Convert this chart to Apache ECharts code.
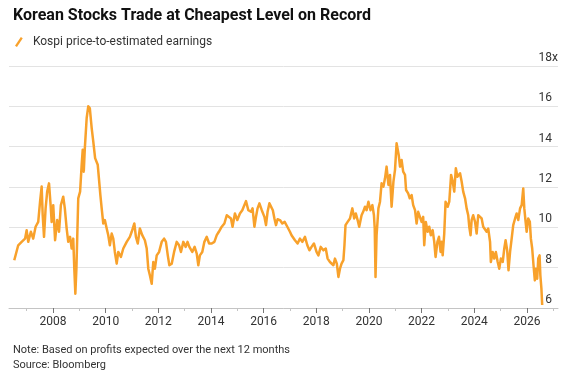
<!DOCTYPE html>
<html>
<head>
<meta charset="utf-8">
<script src="https://cdn.jsdelivr.net/npm/echarts@6/dist/echarts.min.js"></script>
<style>
  html, body { margin: 0; padding: 0; background: #fff; }
  #chart { width: 578px; height: 373px; }
</style>
</head>
<body>
<div id="chart"></div>
<script>
// Kospi forward P/E (decimal year, value)
var t2006 = [2006.53, 2006.68, 2006.81, 2006.94, 2007.0, 2007.06, 2007.16, 2007.25, 2007.34, 2007.44, 2007.51, 2007.57, 2007.61, 2007.66, 2007.72, 2007.78, 2007.85, 2007.91, 2007.95, 2008.01, 2008.08, 2008.16, 2008.23, 2008.30, 2008.39, 2008.45, 2008.52, 2008.58, 2008.65, 2008.71, 2008.77, 2008.81, 2008.85, 2008.89, 2008.92, 2008.96, 2009.03, 2009.09, 2009.13, 2009.17, 2009.21, 2009.28, 2009.34, 2009.40, 2009.47, 2009.53, 2009.60];
var pe2006 = [8.37, 9.11, 9.28, 9.44, 9.86, 9.28, 9.78, 9.44, 10.03, 10.27, 11.27, 12.02, 10.6, 9.53, 10.94, 11.77, 12.18, 11.1, 10.27, 11.1, 9.36, 10.36, 9.78, 11.1, 11.52, 10.94, 9.94, 9.28, 9.53, 8.95, 9.44, 7.95, 6.71, 7.95, 9.44, 11.44, 11.77, 13.1, 13.85, 12.76, 13.93, 15.42, 16.0, 15.9, 14.92, 14.26, 13.43];

var t2009 = [2009.70, 2009.75, 2009.80, 2009.85, 2009.91, 2009.97, 2010.04, 2010.10, 2010.16, 2010.23, 2010.29, 2010.35, 2010.42, 2010.48, 2010.58, 2010.67, 2010.80, 2010.92, 2010.99, 2011.09, 2011.15, 2011.22, 2011.30, 2011.39, 2011.49, 2011.56, 2011.62, 2011.68, 2011.75, 2011.81, 2011.87, 2011.94, 2012.03, 2012.13, 2012.22, 2012.29, 2012.36, 2012.42, 2012.51, 2012.60, 2012.70, 2012.79, 2012.86, 2012.95];
var pe2009 = [13.1, 12.35, 11.6, 10.94, 10.19, 10.36, 9.94, 9.61, 9.11, 9.69, 9.44, 8.78, 8.2, 8.78, 8.53, 8.95, 9.28, 9.53, 9.78, 10.19, 9.53, 9.2, 9.94, 9.61, 9.36, 8.95, 7.95, 7.62, 7.2, 8.28, 7.95, 8.61, 8.78, 9.28, 9.44, 9.28, 8.61, 8.12, 8.2, 8.78, 9.28, 9.11, 8.78, 9.28];

var t2013 = [2013.04, 2013.11, 2013.18, 2013.29, 2013.38, 2013.46, 2013.52, 2013.58, 2013.67, 2013.75, 2013.84, 2013.93, 2014.03, 2014.13, 2014.22, 2014.30, 2014.41, 2014.51, 2014.60, 2014.66, 2014.76, 2014.82, 2014.91, 2015.0, 2015.10, 2015.19, 2015.26, 2015.33, 2015.42, 2015.52, 2015.58, 2015.65, 2015.71, 2015.77, 2015.84, 2015.93, 2016.03, 2016.09, 2016.15, 2016.22, 2016.28, 2016.35];
var pe2013 = [9.03, 9.28, 9.03, 8.78, 9.03, 8.7, 8.12, 8.61, 8.78, 9.28, 9.53, 9.2, 9.2, 9.28, 9.61, 9.78, 10.03, 10.19, 10.6, 10.52, 10.44, 10.03, 10.69, 10.36, 10.69, 10.85, 10.77, 11.3, 10.85, 10.77, 10.94, 10.03, 10.52, 10.94, 11.19, 10.85, 10.52, 10.11, 10.77, 11.19, 11.27, 10.85];

var t2016 = [2016.41, 2016.47, 2016.53, 2016.62, 2016.71, 2016.80, 2016.90, 2017.0, 2017.06, 2017.13, 2017.19, 2017.29, 2017.38, 2017.47, 2017.57, 2017.66, 2017.74, 2017.82, 2017.91, 2018.01, 2018.08, 2018.17, 2018.27, 2018.36, 2018.43, 2018.52, 2018.58, 2018.65, 2018.71, 2018.78, 2018.84, 2018.90, 2018.96, 2019.03, 2019.07, 2019.11, 2019.19, 2019.28, 2019.37, 2019.44, 2019.50, 2019.57, 2019.63, 2019.72, 2019.78];
var pe2016 = [10.44, 10.11, 10.4, 10.36, 10.19, 10.27, 10.03, 9.78, 9.61, 9.69, 9.36, 9.2, 9.44, 9.28, 9.53, 9.11, 8.86, 9.03, 9.2, 8.78, 8.61, 9.03, 8.86, 8.95, 8.45, 8.28, 8.37, 8.12, 8.45, 8.2, 7.54, 7.95, 8.2, 8.37, 9.11, 10.11, 10.27, 10.44, 10.94, 10.44, 10.69, 10.36, 10.03, 10.6, 10.77];

var t2019 = [2019.85, 2019.91, 2019.98, 2020.06, 2020.13, 2020.19, 2020.22, 2020.25, 2020.29, 2020.36, 2020.42, 2020.48, 2020.55, 2020.61, 2020.67, 2020.74, 2020.80, 2020.86, 2020.93, 2020.99, 2021.05, 2021.09, 2021.13, 2021.18, 2021.24, 2021.30, 2021.37, 2021.41, 2021.49, 2021.55, 2021.62, 2021.68, 2021.75, 2021.81, 2021.87, 2021.94, 2022.0, 2022.06, 2022.10, 2022.16, 2022.23, 2022.29, 2022.35, 2022.42, 2022.48, 2022.53, 2022.60, 2022.66, 2022.72, 2022.76, 2022.80, 2022.86, 2022.91, 2022.99, 2023.05, 2023.12, 2023.18, 2023.24];
var pe2019 = [11.02, 10.85, 11.27, 10.85, 11.1, 10.6, 9.94, 7.54, 9.61, 10.94, 11.27, 12.18, 12.02, 12.43, 13.01, 12.1, 12.6, 11.02, 12.27, 12.85, 14.17, 14.26, 13.59, 13.01, 13.34, 12.76, 12.6, 11.85, 11.68, 11.44, 11.6, 11.1, 10.85, 10.19, 10.77, 10.69, 10.27, 10.52, 9.11, 10.27, 9.78, 10.03, 9.61, 9.86, 9.28, 8.53, 9.28, 9.53, 8.78, 9.28, 8.61, 9.69, 11.27, 11.02, 11.27, 12.6, 12.27, 11.77];

var t2023 = [2023.30, 2023.36, 2023.46, 2023.52, 2023.58, 2023.65, 2023.71, 2023.77, 2023.81, 2023.86, 2023.90, 2023.96, 2024.03, 2024.09, 2024.15, 2024.22, 2024.28, 2024.34, 2024.41, 2024.47, 2024.53, 2024.60, 2024.63, 2024.70, 2024.76, 2024.82, 2024.89, 2024.95, 2025.01, 2025.08, 2025.14, 2025.19, 2025.25, 2025.30, 2025.36, 2025.42, 2025.48, 2025.55, 2025.61, 2025.67, 2025.74, 2025.80, 2025.86, 2025.90, 2025.95, 2025.99, 2026.05, 2026.11, 2026.15, 2026.20, 2026.25, 2026.30, 2026.34, 2026.39, 2026.43, 2026.48, 2026.51, 2026.55, 2026.58];
var pe2023 = [12.93, 12.51, 12.68, 12.27, 11.77, 11.44, 10.94, 10.6, 10.03, 9.61, 10.36, 10.6, 10.27, 9.69, 10.6, 10.69, 10.44, 10.03, 9.94, 9.78, 9.94, 9.28, 8.28, 8.78, 8.45, 8.78, 8.28, 7.95, 8.45, 8.28, 8.95, 9.36, 8.86, 7.87, 8.78, 9.44, 10.11, 10.44, 10.69, 10.36, 10.94, 11.1, 11.93, 10.94, 10.27, 9.78, 10.44, 10.27, 9.44, 8.95, 8.12, 7.37, 7.95, 7.45, 8.45, 8.61, 7.62, 6.96, 6.15];

var yearLabels = [2008, 2010, 2012, 2014, 2016, 2018, 2020, 2022, 2024, 2026];
var oddYears = [2007, 2009, 2011, 2013, 2015, 2017, 2019, 2021, 2023, 2025, 2027];
var yTicks = [6, 8, 10, 12, 14, 16, 18];

var times = [].concat(t2006, t2009, t2013, t2016, t2019, t2023);
var values = [].concat(pe2006, pe2009, pe2013, pe2016, pe2019, pe2023);
var points = times.map(function(t, i) { return [t, values[i]]; });

var font = "Roboto, 'Liberation Sans', sans-serif";
var chart = echarts.init(document.getElementById("chart"));
chart.setOption({
  backgroundColor: "#ffffff",
  animation: false,
  textStyle: { fontFamily: font },
  title: [
    {
      text: "Korean Stocks Trade at Cheapest Level on Record",
      left: 8,
      top: 3,
      textStyle: { fontSize: 16, fontWeight: "bold", color: "#111", fontFamily: font }
    },
    {
      text: "Note: Based on profits expected over the next 12 months\nSource: Bloomberg",
      left: 8,
      top: 338,
      textStyle: { fontSize: 11, fontWeight: "normal", color: "#333", lineHeight: 15, fontFamily: font }
    }
  ],
  legend: {
    left: 10,
    top: 31,
    itemWidth: 8,
    itemHeight: 10,
    itemGap: 6,
    icon: "path://M0,9 L6,0 L8,1.3 L2,10.3 Z",
    textStyle: { fontSize: 12, color: "#333", padding: [0, 0, 0, 5] },
    data: ["Kospi price-to-estimated earnings"]
  },
  grid: { left: 9, right: 20, top: 66, bottom: 65 },
  xAxis: [
    {
      type: "value",
      min: 2006.33,
      max: 2027.18,
      position: "bottom",
      splitLine: { show: false },
      axisLine: { lineStyle: { color: "#c4c4c4", width: 1 } },
      axisTick: { customValues: yearLabels, length: 5, lineStyle: { color: "#777" } },
      axisLabel: {
        customValues: yearLabels,
        margin: 8,
        fontSize: 12,
        color: "#333",
        formatter: function(v) { return String(Math.round(v)); }
      }
    },
    {
      type: "value",
      min: 2006.33,
      max: 2027.18,
      position: "bottom",
      splitLine: { show: false },
      axisLine: { show: false },
      axisTick: { customValues: oddYears, length: 3, lineStyle: { color: "#c4c4c4" } },
      axisLabel: { show: false }
    }
  ],
  yAxis: {
    type: "value",
    position: "right",
    min: 6,
    max: 18,
    interval: 2,
    axisLine: { show: false },
    axisTick: { show: false },
    splitLine: { lineStyle: { color: "#e3e3e3", width: 1 } },
    axisLabel: {
      inside: true,
      margin: 0,
      align: "right",
      verticalAlign: "bottom",
      padding: [0, 0, 2, 0],
      fontSize: 12,
      color: "#333",
      formatter: function(v) {
        return v === 18 ? "18x" : v + "{h|x}";
      },
      rich: { h: { color: "rgba(0,0,0,0)", fontSize: 12 } }
    }
  },
  series: [
    {
      name: "Kospi price-to-estimated earnings",
      type: "line",
      data: points,
      showSymbol: false,
      color: "#f8a12b",
      lineStyle: { width: 2.5, color: "#f8a12b", join: "round" }
    }
  ]
});
</script>
</body>
</html>
